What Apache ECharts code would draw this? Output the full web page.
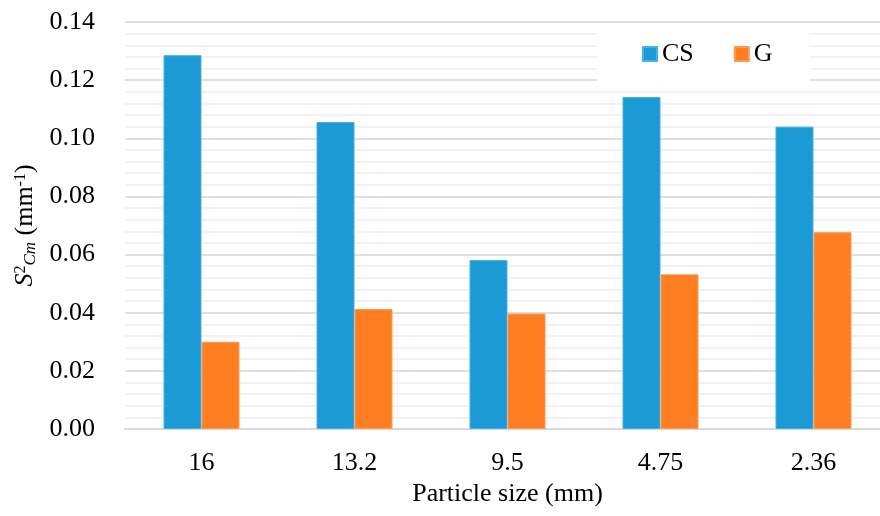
<!DOCTYPE html>
<html>
<head>
<meta charset="utf-8">
<script src="https://cdn.jsdelivr.net/npm/echarts@6/dist/echarts.min.js"></script>
<style>
  html, body { margin: 0; padding: 0; background: #fff; overflow: hidden; }
  /* the plot runs slightly past the right edge of the visible page */
  #chart { width: 890px; height: 516px; }
</style>
</head>
<body>
<div id="chart"></div>
<script>
// Particle sizes (mm) along the horizontal axis
const categories = ['16', '13.2', '9.5', '4.75', '2.36'];
// Specific surface values S²Cm (mm⁻¹) for each material
const csValues = [0.1286, 0.1056, 0.0581, 0.1142, 0.1040];
const gValues = [0.0300, 0.0413, 0.0397, 0.0532, 0.0677];
const seriesNames = ['CS', 'G'];

const serif = "'Liberation Serif', 'Times New Roman', serif";
const fs = 26;
const chart = echarts.init(document.getElementById('chart'));

chart.setOption({
  backgroundColor: '#ffffff',
  animation: false,
  textStyle: { fontFamily: serif },
  grid: { left: 125, top: 22, right: 0, bottom: 87, containLabel: false },
  legend: {
    data: seriesNames,
    left: 597,
    top: 23,
    padding: [18, 37, 17, 45],
    backgroundColor: '#ffffff',
    itemWidth: 14,
    itemHeight: 14,
    itemGap: 40,
    icon: 'rect',
    textStyle: { fontFamily: serif, fontSize: fs, color: '#000' }
  },
  xAxis: {
    type: 'category',
    data: categories,
    name: 'Particle size (mm)',
    nameLocation: 'middle',
    nameGap: 48,
    nameTextStyle: { fontFamily: serif, fontSize: fs, color: '#000' },
    axisLine: { lineStyle: { color: '#d9d9d9', width: 2 } },
    axisTick: { show: false },
    axisLabel: { fontFamily: serif, fontSize: fs, color: '#000', margin: 21 }
  },
  yAxis: {
    type: 'value',
    min: 0,
    max: 0.14,
    interval: 0.02,
    name: '{s|S}{sup|2}{sub|Cm}{t| (mm}{sup|-1}{t|)}',
    nameLocation: 'middle',
    nameGap: 86,
    nameRotate: 90,
    nameTextStyle: {
      fontFamily: serif,
      color: '#000',
      rich: {
        s: { fontFamily: serif, fontSize: fs, fontStyle: 'italic', color: '#000' },
        t: { fontFamily: serif, fontSize: fs, color: '#000' },
        sup: { fontFamily: serif, fontSize: 16, color: '#000', verticalAlign: 'top', padding: [0, 0, 10, 0] },
        sub: { fontFamily: serif, fontSize: 17, fontStyle: 'italic', color: '#000', verticalAlign: 'bottom', padding: [9, 0, 0, 0] }
      }
    },
    axisLine: { show: false },
    axisTick: { show: false },
    axisLabel: {
      fontFamily: serif, fontSize: fs, color: '#000', margin: 30,
      formatter: v => v.toFixed(2)
    },
    splitLine: { lineStyle: { color: '#d6d6d6', width: 1.5 } },
    minorTick: { show: false, splitNumber: 5 },
    minorSplitLine: { show: true, lineStyle: { color: '#eeeeee', width: 1.5 } }
  },
  series: [
    {
      name: seriesNames[0],
      type: 'bar',
      data: csValues,
      barWidth: 38,
      barGap: '0%',
      itemStyle: { color: '#1b9ad6', borderColor: '#46b1e3', borderWidth: 1 }
    },
    {
      name: seriesNames[1],
      type: 'bar',
      data: gValues,
      barWidth: 38,
      barGap: '0%',
      itemStyle: { color: '#fe7f22', borderColor: '#ff9a55', borderWidth: 1 }
    }
  ]
});
</script>
</body>
</html>
